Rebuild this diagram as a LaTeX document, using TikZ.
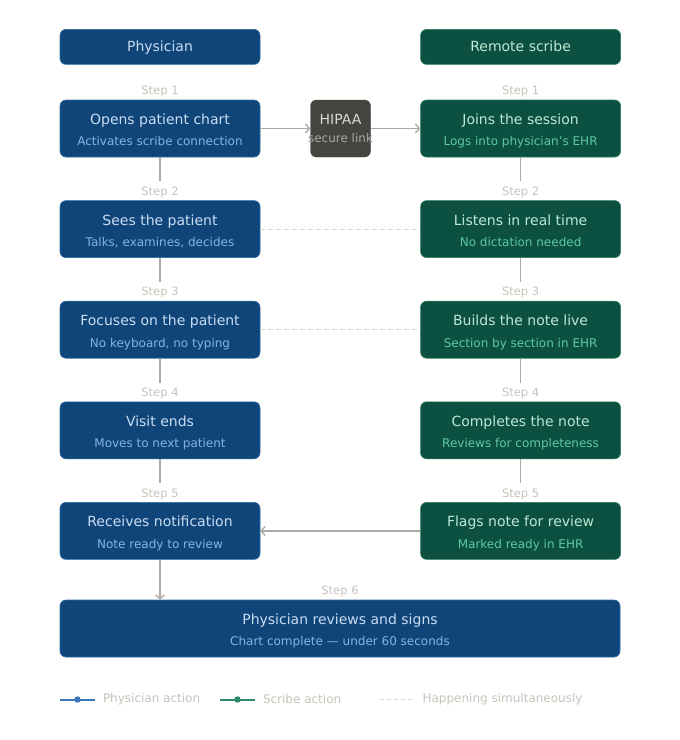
\documentclass[tikz,border=0pt]{standalone}
\usepackage{fontspec}
\setmainfont{DejaVu Sans}
\usetikzlibrary{positioning,arrows.meta}
\definecolor{phys700} {HTML}{0F4579}
\definecolor{phys400} {HTML}{2F6AA6}
\definecolor{phys200} {HTML}{C9DCF2}
\definecolor{phys300} {HTML}{84B4E6}
\definecolor{scr700}  {HTML}{0B5040}
\definecolor{scr400}  {HTML}{2A7A5E}
\definecolor{scr200}  {HTML}{BDE8D4}
\definecolor{scr300}  {HTML}{5FC9A0}
\definecolor{link700} {HTML}{46443F}
\definecolor{link200} {HTML}{DAD8D2}
\definecolor{link300} {HTML}{A9A7A1}
\definecolor{grey500} {HTML}{ABA9A3}
\definecolor{grey300} {HTML}{C6C2BA}
\definecolor{grey200} {HTML}{D8D8D8}
\definecolor{legblue} {HTML}{3A78B8}
\definecolor{leggreen}{HTML}{2E8A66}
\newcommand{\bx}[2]{\rule{0pt}{17.6pt}#1\\[4.5pt]%
  {\fontsize{12}{14}\selectfont\color{subc}#2\strut}}
\tikzset{
  physbox/.style ={draw=phys400, line width=0.6pt, fill=phys700,
                   rounded corners=6pt, align=center, inner sep=0pt,
                   minimum width=200pt, minimum height=57pt, text=phys200,
                   font=\fontsize{14}{17}\selectfont,
                   execute at begin node={\colorlet{subc}{phys300}}},
  scrbox/.style  ={physbox, draw=scr400, fill=scr700, text=scr200,
                   execute at begin node={\colorlet{subc}{scr300}}},
  head/.style    ={minimum height=35pt, text height=13pt, text depth=3pt},
  linkbox/.style ={draw=link700, fill=link700, rounded corners=6pt,
                   minimum width=60pt, minimum height=57pt, inner sep=0pt,
                   align=center, text=link200,
                   font=\fontsize{14}{17}\selectfont},
  steplbl/.style ={font=\fontsize{11.5}{13}\selectfont, text=grey300,
                   inner sep=0pt},
  conn/.style    ={draw=grey500, line width=1.5pt, shorten >=5pt},
  flow/.style    ={-{Straight Barb[length=4pt,width=9pt]}, draw=grey500,
                   line width=1.3pt},
  simul/.style   ={draw=grey200, line width=1.2pt,
                   dash pattern=on 5pt off 3pt},
  legtxt/.style  ={font=\fontsize{12}{14}\selectfont, text=grey300,
                   anchor=west, inner sep=0pt}
}
\begin{document}
\begin{tikzpicture}[x=1pt, y=-1pt, node distance=43pt]
\useasboundingbox (0,0) rectangle (680,740);

% physician column
\node[physbox] (p1) at (160,128.5)
  {\bx{Opens patient chart}{Activates scribe connection}};
\node[physbox, below=of p1] (p2) {\bx{Sees the patient}{Talks, examines, decides}};
\node[physbox, below=of p2] (p3) {\bx{Focuses on the patient}{No keyboard, no typing}};
\node[physbox, below=of p3] (p4) {\bx{Visit ends}{Moves to next patient}};
\node[physbox, below=of p4] (p5) {\bx{Receives notification}{Note ready to review}};
\node[physbox, head, above=35pt of p1] (phead) {Physician};

% secure link and scribe column
\node[linkbox, right=50pt of p1] (link)
  {HIPAA\\[0.5pt]\makebox[0pt]{\fontsize{12}{14}\selectfont\color{link300}secure link}};
\node[scrbox, right=160pt of p1] (s1)
  {\bx{Joins the session}{Logs into physician's EHR}};
\node[scrbox, right=160pt of p2] (s2) {\bx{Listens in real time}{No dictation needed}};
\node[scrbox, right=160pt of p3] (s3) {\bx{Builds the note live}{Section by section in EHR}};
\node[scrbox, right=160pt of p4] (s4) {\bx{Completes the note}{Reviews for completeness}};
\node[scrbox, right=160pt of p5] (s5) {\bx{Flags note for review}{Marked ready in EHR}};
\node[scrbox, head, above=35pt of s1] (shead) {Remote scribe};

\node[physbox, minimum width=560pt] (fin) at (340,628.5)
  {\bx{Physician reviews and signs}{Chart complete — under 60 seconds}};

% step labels
\foreach \n in {1,...,5} {
  \node[steplbl, above=2.5pt of p\n] (pl\n) {Step \n};
  \node[steplbl, above=2.5pt of s\n] (sl\n) {Step \n};
}
\node[steplbl, above=2.5pt of fin] (fl) {Step 6};

% connectors
\foreach \i/\j in {1/2,2/3,3/4,4/5} {
  \draw[conn] (p\i) -- (pl\j);
  \draw[conn] (s\i) -- (sl\j);
}
\draw[flow] (p1) -- (link);
\draw[flow] (link) -- (s1);
\foreach \r in {2,3} \draw[simul] (p\r) -- (s\r);
\draw[flow] (s5) -- (p5);
\draw[flow] (p5) -- (p5 |- fin.north);

% legend
\coordinate (lg1) at (60,699.5);
\coordinate (lg2) at (220,699.5);
\coordinate (lg3) at (380,699.5);
\draw[legblue, line width=2pt] (lg1) -- ++(35,0)
  node[legtxt, right=7pt] (lt1) {Physician action};
\fill[legblue] (lg1) ++(17.5,0) circle (3.2pt);
\draw[leggreen, line width=2pt] (lg2) -- ++(35,0)
  node[legtxt, right=7pt] (lt2) {Scribe action};
\fill[leggreen] (lg2) ++(17.5,0) circle (3.2pt);
\draw[simul, line width=1.2pt, dash pattern=on 4pt off 3pt] (lg3) -- ++(35,0)
  node[legtxt, right=7pt] (lt3) {Happening simultaneously};
\end{tikzpicture}
\end{document}
